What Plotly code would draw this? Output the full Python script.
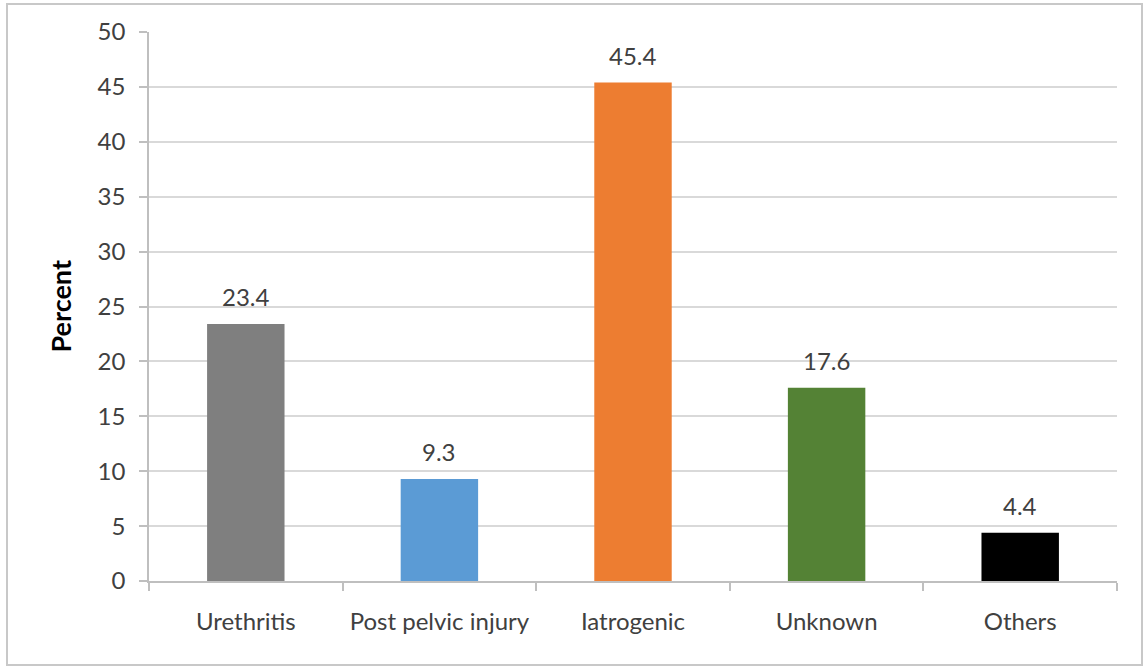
import plotly.graph_objects as go

categories = ["Urethritis", "Post pelvic injury", "Iatrogenic", "Unknown", "Others"]
percent = [23.4, 9.3, 45.4, 17.6, 4.4]
bar_colors = ["#7f7f7f", "#5b9bd5", "#ed7d31", "#548235", "#000000"]
y_ticks = [0, 5, 10, 15, 20, 25, 30, 35, 40, 45, 50]

W, H = 1145, 668
L, R, T, B = 149, 28, 32, 87
pw, ph = W - L - R, H - T - B

def px_x(x):
    return (x - L) / pw

def px_y(y):
    return (H - B - y) / ph

font_family = "Lato, 'Open Sans', sans-serif"
text_color = "#404040"
label_size = 24

fig = go.Figure()
fig.add_trace(go.Bar(
    x=categories,
    y=percent,
    marker=dict(color=bar_colors, line=dict(width=0)),
    width=0.4,
    hoverinfo="x+y",
))

# value labels above each bar
for c, v in zip(categories, percent):
    fig.add_annotation(
        x=c, y=v, text=f"{v:.1f}", showarrow=False,
        yanchor="bottom", yshift=11,
        font=dict(family=font_family, size=label_size, color=text_color),
    )

# y-axis title
fig.add_annotation(
    xref="paper", yref="paper", x=px_x(60), y=0.5,
    xanchor="center", yanchor="middle",
    text="<b>Percent</b>", textangle=-90, showarrow=False,
    font=dict(family=font_family, size=27, color="#000000"),
)

# outer frame around the chart
fig.add_shape(
    type="rect", xref="paper", yref="paper",
    x0=px_x(7), x1=px_x(1142), y0=px_y(665), y1=px_y(4),
    line=dict(color="#c8c8c8", width=2), fillcolor="rgba(0,0,0,0)",
    layer="below",
)

fig.update_layout(
    width=W, height=H,
    margin=dict(l=L, r=R, t=T, b=B, autoexpand=False),
    paper_bgcolor="#ffffff",
    plot_bgcolor="#ffffff",
    showlegend=False,
    bargap=0.6,
    font=dict(family=font_family, size=label_size, color=text_color),
)

fig.update_xaxes(
    type="category",
    showgrid=False,
    showline=True, linecolor="#bfbfbf", linewidth=1.5,
    ticks="outside", tickson="boundaries", ticklen=8,
    tickcolor="#bfbfbf", tickwidth=1.5,
    ticklabelstandoff=18,
    tickfont=dict(family=font_family, size=label_size, color=text_color),
)

fig.update_yaxes(
    range=[0, 50],
    tickvals=y_ticks,
    showgrid=True, gridcolor="#d9d9d9", gridwidth=1.5,
    showline=True, linecolor="#bfbfbf", linewidth=1.5,
    ticks="outside", ticklen=8, tickcolor="#bfbfbf", tickwidth=1.5,
    ticklabelstandoff=9,
    zeroline=False,
    tickfont=dict(family=font_family, size=label_size, color=text_color),
)

fig.write_html("out.html")
